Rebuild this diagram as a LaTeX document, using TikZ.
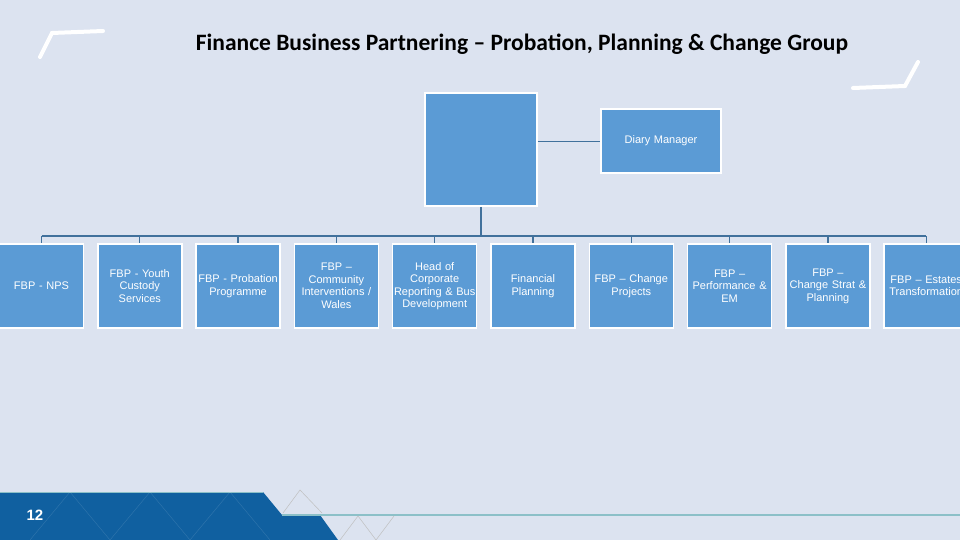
\documentclass[tikz,border=0pt]{standalone}
\usepackage{fontspec}
\setmainfont{Liberation Sans}
\newfontfamily\titlefont{Carlito}
\definecolor{bg}{HTML}{DCE3F0}
\definecolor{boxc}{HTML}{5B9BD5}
\definecolor{linec}{HTML}{41719C}
\definecolor{band}{HTML}{1060A0}
\definecolor{teal}{HTML}{8CC0C8}
\begin{document}
\begin{tikzpicture}[x=1pt,y=-1pt,
  orgbox/.style={draw=white,line width=1.5pt,fill=boxc,minimum width=83pt,minimum height=84pt,inner sep=0pt,align=center,text width=84pt,font=\fontsize{11}{12.5}\selectfont,text=white},
  conn/.style={draw=linec,line width=1.3pt},
  deco/.style={draw=white,line width=4pt,line cap=round}]
\path[use as bounding box,fill=bg] (0,0) rectangle (960,540);
\clip (0,0) rectangle (960,540);
\draw[deco] (40,57) -- (52,33) -- (103,31);
\draw[deco] (853,88) -- (905,86) -- (918,62);
\node[font=\titlefont\fontsize{23.5}{26}\selectfont\bfseries] (title) at (522,44) {Finance Business Partnering – Probation, Planning \& Change Group};
\node[orgbox,minimum width=112pt,minimum height=113pt,text width=110pt] (top) at (481,149.5) {};
\node[orgbox,minimum width=120pt,minimum height=64pt,text width=118pt] (dm) at (661,141) {Diary Manager};
\draw[draw=linec,line width=0.6pt] (top.east |- dm.west) -- (dm.west);
\foreach \i/\t in {0/{FBP - NPS},1/{FBP - Youth\\Custody\\Services},2/{FBP - Probation\\Programme},3/{FBP –\\Community\\Interventions /\\Wales},4/{Head of\\Corporate\\Reporting \& Bus\\Development},5/{Financial\\Planning},6/{FBP – Change\\Projects},7/{FBP –\\Performance \&\\EM},8/{FBP –\\Change Strat \&\\Planning},9/{FBP – Estates\\Transformation}}{
  \node[orgbox] (b\i) at ({41.5+98.3*\i},286) {\t};
}
\coordinate (bus) at (481,236);
\draw[conn] (top.south) -- (bus);
\draw[conn] (41.5,236) -- (926.2,236);
\foreach \i in {0,...,9}{\draw[conn] (b\i.north |- bus) -- (b\i.north);}
% bottom band
\fill[band] (0,492) -- (263,492) -- (282,515) -- (320,515) -- (338,540) -- (0,540) -- cycle;
\draw[teal,line width=1pt] (0,492) -- (263,492);
\draw[teal,line width=1.2pt] (282,515) -- (960,515);
\foreach \x in {30,110,190}{\draw[white,opacity=0.12,line width=0.5pt] (\x,540) -- (\x+40,492) -- (\x+80,540);}
\draw[gray!50,line width=0.5pt] (283,513) -- (300,490) -- (322,513);
\draw[gray!50,line width=0.5pt] (340,540) -- (358,516) -- (376,540);
\draw[gray!50,line width=0.5pt] (376,540) -- (394,516);
\node[font=\bfseries\fontsize{15}{17}\selectfont,text=white] (pg) at (35,515) {12};
\end{tikzpicture}
\end{document}
